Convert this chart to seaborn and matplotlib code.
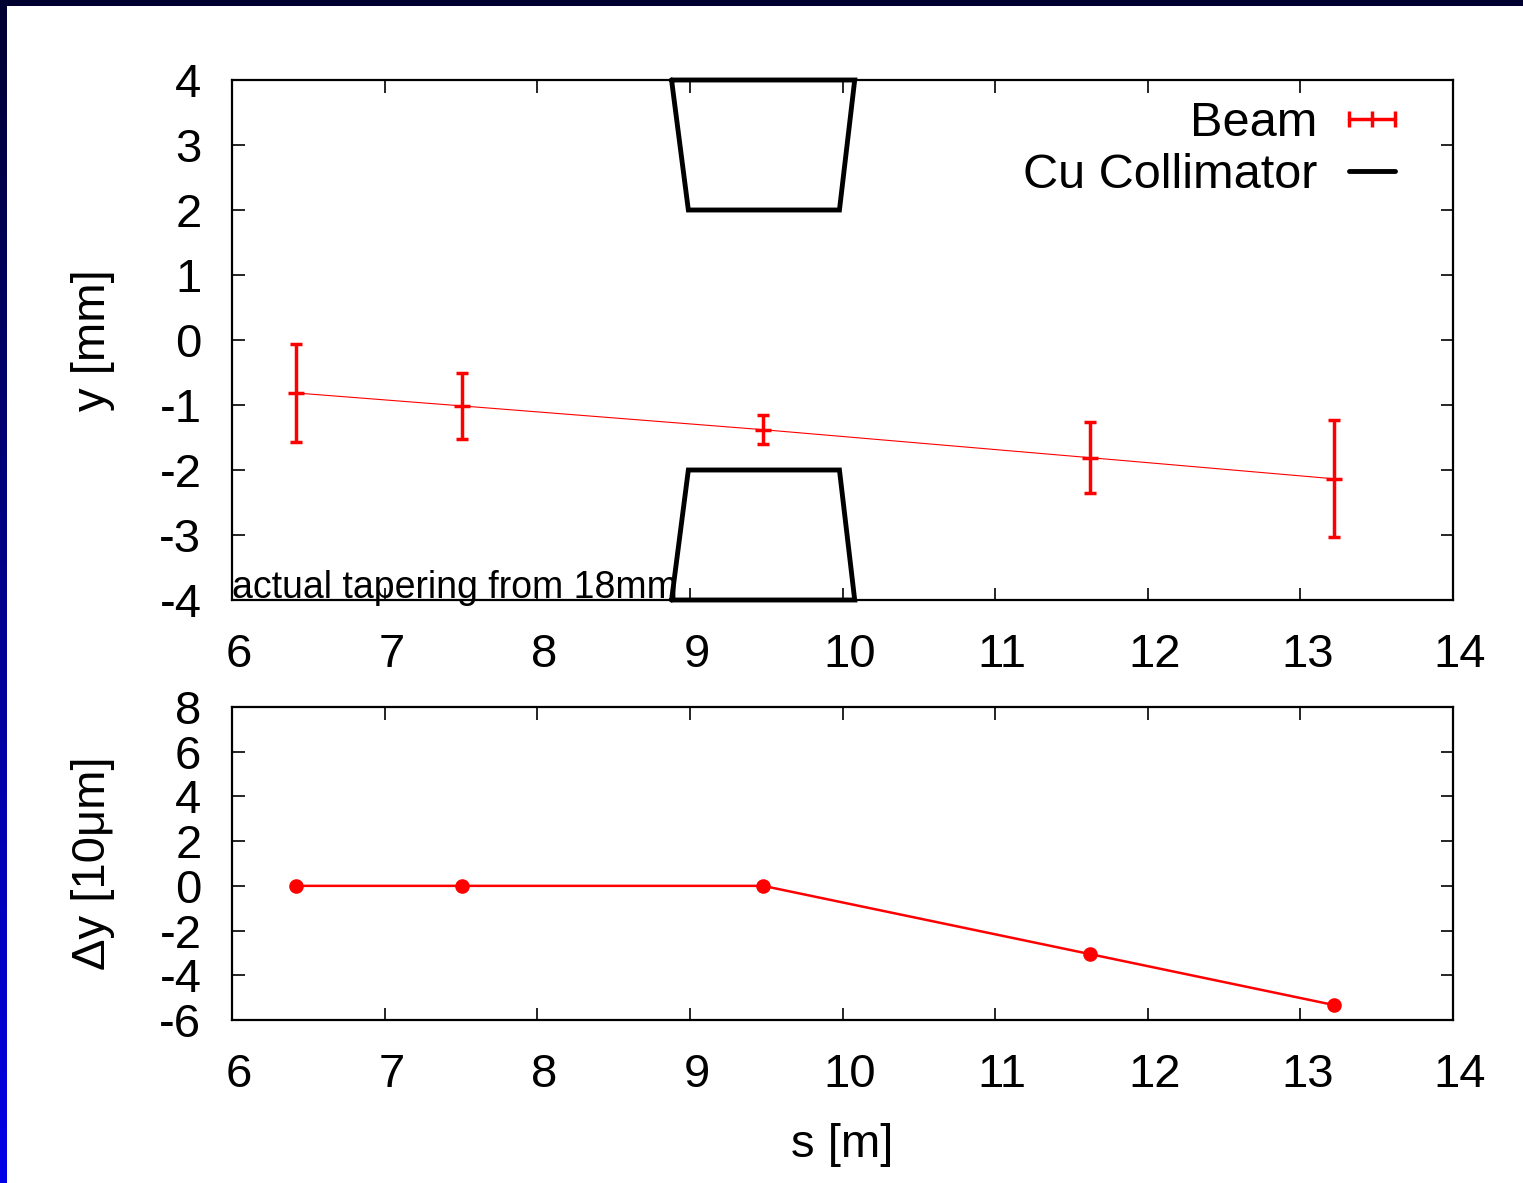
import numpy as np
import matplotlib
matplotlib.use("Agg")
import matplotlib.pyplot as plt
import matplotlib.transforms as mtransforms
import seaborn as sns
import pandas as pd
from matplotlib.lines import Line2D
from matplotlib.legend_handler import HandlerLine2D

# beam position along s
s_beam = [6.42, 7.51, 9.48, 11.62, 13.22]
y_beam = [-0.815, -1.015, -1.38, -1.81, -2.135]
y_err = [0.755, 0.51, 0.22, 0.55, 0.90]
dy_beam = [0.0, 0.0, 0.0, -3.05, -5.33]

# Cu collimator jaws (trapezoids)
coll_s = [8.88, 8.99, 9.98, 10.08, 8.88]
coll_top = [4, 2, 2, 4, 4]
coll_bot = [-4, -2, -2, -4, -4]

x_ticks = [6, 7, 8, 9, 10, 11, 12, 13, 14]
y_ticks_top = [-4, -3, -2, -1, 0, 1, 2, 3, 4]
y_ticks_bot = [-6, -4, -2, 0, 2, 4, 6, 8]

sns.set_theme(style="ticks")
plt.rcParams['font.family'] = ['Liberation Sans', 'DejaVu Sans']
plt.rcParams['axes.unicode_minus'] = False
plt.rcParams['text.color'] = 'black'
plt.rcParams['axes.labelcolor'] = 'black'

W, H = 1523, 1183
fig = plt.figure(figsize=(W / 100, H / 100), dpi=100, facecolor="white")

# dark blue slide border (top band + left gradient)
top_band = fig.add_axes([0, 1 - 6 / H, 1, 6 / H])
top_band.set_axis_off()
top_band.add_patch(plt.Rectangle((0, 0), 1, 1, color="#000030", transform=top_band.transAxes))
left_band = fig.add_axes([0, 0, 7 / W, 1])
grad = np.linspace(0, 1, 256).reshape(-1, 1)
cmap = matplotlib.colors.LinearSegmentedColormap.from_list("bb", ["#000030", "#0000e8"])
left_band.imshow(grad, aspect="auto", cmap=cmap, extent=[0, 1, 0, 1], origin="upper")
left_band.set_axis_off()

ax1 = fig.add_axes([232 / W, 1 - 600 / H, (1453 - 232) / W, 520 / H])
ax2 = fig.add_axes([232 / W, 1 - 1020 / H, (1453 - 232) / W, 313 / H])

tick_fs = 34
red = "#ff0000"

# top panel: beam with error bars
df = pd.DataFrame({"s": s_beam, "y": y_beam, "dy": dy_beam})
sns.lineplot(data=df, x="s", y="y", ax=ax1, color=red, linewidth=0.8, legend=False)
ax1.errorbar(s_beam, y_beam, yerr=y_err, fmt="none", ecolor=red, elinewidth=2.5,
             capsize=4.5, capthick=2.5)
ax1.plot(s_beam, y_beam, linestyle="none", marker="_", markersize=11, mew=2.5, color=red)

for yy in (coll_top, coll_bot):
    ax1.plot(coll_s, yy, color="black", linewidth=3.5, clip_on=False, solid_joinstyle="miter", zorder=5)

ax1.text(6.0, -3.97, "actual tapering from 18mm", fontsize=27, ha="left", va="baseline", zorder=6)

beam_h = Line2D([], [], color=red, linewidth=2.5, marker="|", markersize=11, mew=2.5)
coll_h = Line2D([], [], color="black", linewidth=3.5)
ax1.legend([beam_h, coll_h], ["Beam", "Cu Collimator"], loc="upper right",
           bbox_to_anchor=(0.9525, 0.96), frameon=False, fontsize=35, markerfirst=False,
           handlelength=0.95, handletextpad=0.65, labelspacing=0.15, borderpad=0,
           borderaxespad=0, handler_map={beam_h: HandlerLine2D(numpoints=3, marker_pad=0)})

ax1.set_xlim(6, 14)
ax1.set_ylim(-4, 4)
ax1.set_xticks(x_ticks)
ax1.set_yticks(y_ticks_top)
ax1.set_xlabel("")
ax1.set_ylabel("y [mm]", fontsize=tick_fs)

# bottom panel: deviation
sns.lineplot(data=df, x="s", y="dy", ax=ax2, color=red, linewidth=1.8, marker="o",
             markersize=10.5, markeredgewidth=0, legend=False)
ax2.set_xlim(6, 14)
ax2.set_ylim(-6, 8)
ax2.set_xticks(x_ticks)
ax2.set_yticks(y_ticks_bot)
ax2.set_xlabel("s [m]", fontsize=tick_fs)
ax2.set_ylabel("Δy [10μm]", fontsize=tick_fs)

shift = mtransforms.ScaledTranslation(7 / 100, 0, fig.dpi_scale_trans)
for ax in (ax1, ax2):
    ax.set_facecolor("white")
    for sp in ax.spines.values():
        sp.set_visible(True)
        sp.set_linewidth(1.6)
        sp.set_color("black")
    ax.tick_params(direction="in", length=9, width=1.2, top=True, right=True,
                   labelsize=tick_fs, colors="black")
    ax.tick_params(axis="x", pad=24)
    ax.tick_params(axis="y", pad=22)
    ax.yaxis.set_label_coords(-0.114, 0.5)
    ax.yaxis.label.set_verticalalignment("center")
    # gnuplot puts the x labels a little right of the tick
    for lab in ax.get_xticklabels():
        lab.set_transform(lab.get_transform() + shift)

ax2.xaxis.set_label_coords(0.5, -0.40)
ax2.xaxis.label.set_verticalalignment("center")

fig.savefig("out.png", dpi=100, facecolor="white")
